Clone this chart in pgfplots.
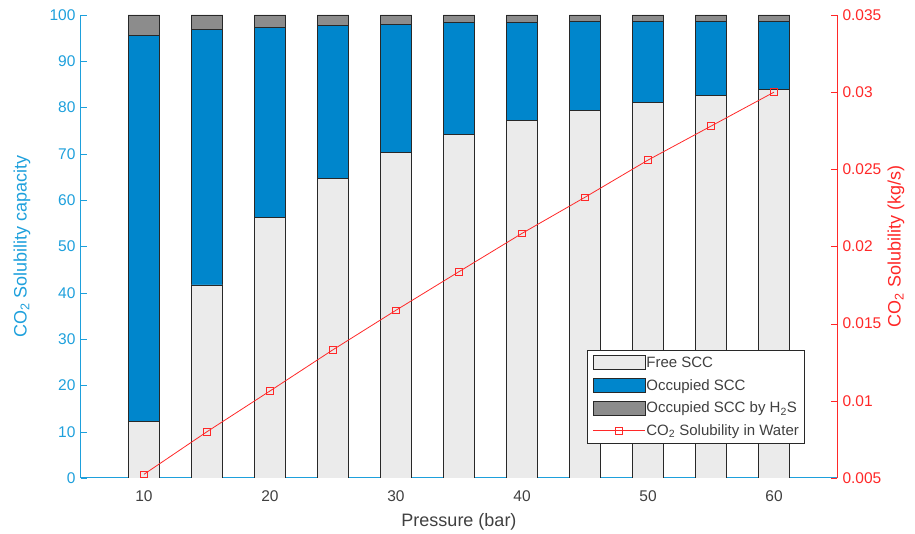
\documentclass[border=0pt]{standalone}
\usepackage{pgfplots}
\pgfplotsset{compat=1.18}
\usepackage{fontspec}
\setmainfont{Liberation Sans}
\definecolor{lblue}{RGB}{30,160,220}
\definecolor{barblue}{RGB}{0,134,204}
\definecolor{freegray}{RGB}{235,235,235}
\definecolor{hgray}{RGB}{140,140,140}
\definecolor{axred}{RGB}{255,40,40}
\definecolor{ticktext}{RGB}{64,64,64}
\definecolor{edge}{RGB}{40,40,40}
\pgfplotsset{
  mylinelegend/.style={legend image code/.code={%
    \draw[##1] (0pt,0pt) -- (52pt,0pt);
    \draw[##1] plot[only marks] coordinates {(26pt,0pt)};}},
}
\begin{document}
\begin{tikzpicture}
\pgfplotsset{
  every axis/.append style={
    scale only axis, width=756pt, height=463pt,
    xmin=5, xmax=65,
    tick align=inside, major tick length=6pt,
    tick label style={font=\fontsize{15.5}{18}\selectfont},
    label style={font=\fontsize{18}{21}\selectfont},
    /pgf/number format/assume math mode=true,
  }
}
\begin{axis}[
  ymin=0, ymax=100,
  axis y line*=left, axis x line*=bottom,
  y axis line style={lblue, line width=1pt, -},
  x axis line style={lblue, line width=1pt, -},
  ytick={0,10,...,100},
  xtick={10,20,...,60},
  ytick style={lblue},
  xtick style={draw=none},
  yticklabel style={lblue, xshift=-2pt},
  xticklabel style={ticktext, yshift=-9pt},
  ylabel={CO\textsubscript{2} Solubility capacity},
  ylabel style={lblue, at={(axis description cs:0,0.5)}, anchor=center, yshift=59pt},
  xlabel={Pressure (bar)},
  xlabel style={ticktext, at={(axis description cs:0.5,0)}, anchor=center, yshift=-44pt},
  ybar stacked, bar width=2.5,
]
\addplot[fill=freegray, draw=edge, line width=0.8pt] coordinates {
(10,12.3)(15,41.7)(20,56.3)(25,64.7)(30,70.3)(35,74.2)(40,77.2)(45,79.4)(50,81.1)(55,82.7)(60,84.0)};
\addplot[fill=barblue, draw=edge, line width=0.8pt] coordinates {
(10,83.2)(15,55.1)(20,41.0)(25,33.0)(30,27.6)(35,24.1)(40,21.1)(45,19.2)(50,17.5)(55,15.9)(60,14.6)};
\addplot[fill=hgray, draw=edge, line width=0.8pt] coordinates {
(10,4.5)(15,3.2)(20,2.7)(25,2.3)(30,2.1)(35,1.7)(40,1.7)(45,1.4)(50,1.4)(55,1.4)(60,1.4)};
\end{axis}
\begin{axis}[
  ymin=0.005, ymax=0.035,
  axis y line*=right, axis x line=none,
  y axis line style={axred, line width=1pt, -},
  ytick={0.005,0.01,0.015,0.02,0.025,0.03,0.035},
  ytick style={axred},
  yticklabel style={axred, xshift=2pt, /pgf/number format/fixed, /pgf/number format/precision=3},
  scaled y ticks=false,
  ylabel={CO\textsubscript{2} Solubility (kg/s)},
  ylabel style={axred, at={(axis description cs:1,0.5)}, anchor=center, yshift=-59pt},
  legend style={at={(0.958,0.277)}, anchor=north east, draw=edge, line width=0.8pt,
    font=\fontsize{15}{17}\selectfont, text=ticktext, row sep=8pt, inner sep=5pt,
    nodes={inner sep=1pt}},
  legend cell align=left,
]
\addlegendimage{legend image code/.code={\draw[fill=freegray, draw=edge, line width=0.8pt] (0pt,-7pt) rectangle (52pt,7pt);}}
\addlegendentry{Free SCC}
\addlegendimage{legend image code/.code={\draw[fill=barblue, draw=edge, line width=0.8pt] (0pt,-7pt) rectangle (52pt,7pt);}}
\addlegendentry{Occupied SCC}
\addlegendimage{legend image code/.code={\draw[fill=hgray, draw=edge, line width=0.8pt] (0pt,-7pt) rectangle (52pt,7pt);}}
\addlegendentry{Occupied SCC by H\textsubscript{2}S}
\addplot[axred, line width=0.8pt, mark=square, mark size=3.3pt, mark options={solid, line width=0.8pt}, mylinelegend]
coordinates {
(10,0.00524)(15,0.0080)(20,0.01064)(25,0.01331)(30,0.01587)(35,0.01837)(40,0.02085)(45,0.02319)(50,0.0256)(55,0.0278)(60,0.0300)};
\addlegendentry{CO\textsubscript{2} Solubility in Water}
\end{axis}
\path (current axis.south west) ++(-81pt,-56pt) coordinate (bbsw);
\path (current axis.north east) ++(78pt,15pt) coordinate (bbne);
\useasboundingbox (bbsw) rectangle (bbne);
\end{tikzpicture}
\end{document}
